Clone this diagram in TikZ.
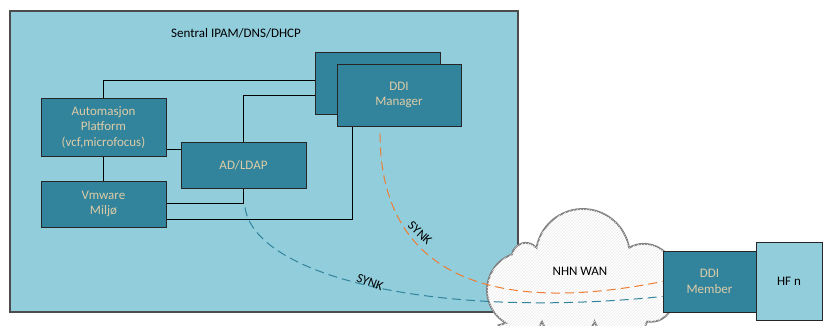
\documentclass[tikz,border=0pt]{standalone}
\usepackage{fontspec}
\setmainfont{Carlito}
\usepackage{tikz}
\usetikzlibrary{patterns}
\definecolor{paleblue}{RGB}{146,205,220}
\definecolor{tealbox}{RGB}{49,132,155}
\definecolor{tantext}{RGB}{222,204,168}
\definecolor{synkorange}{RGB}{237,125,49}

\begin{document}
\begin{tikzpicture}[x=1pt,y=-1pt,
  every node/.style={font=\fontsize{13}{15.5}\selectfont},
  box/.style={draw=black!85,line width=1pt,fill=tealbox,text=tantext,align=center,inner sep=0pt},
  link/.style={line width=0.9pt},
  synk/.style={dash pattern=on 9pt off 5pt,line width=1pt}]
\useasboundingbox (0,0) rectangle (823,325);

% Sentral
\node[draw=black!70,line width=1.5pt,fill=paleblue,minimum width=508pt,minimum height=301pt,inner sep=0pt] (frame) at (263.75,161.5) {};
\node (title) at (236,33) {Sentral IPAM/DNS/DHCP};

% Boxes
\node[box,minimum width=124.5pt,minimum height=62pt] (mgrback) at (377.75,83) {};
\node[box,minimum width=124pt,minimum height=62pt] (mgr) at (399,95) {DDI\\Manager};
\node[box,minimum width=125pt,minimum height=58pt] (auto) at (103.5,127) {Automasjon\\Platform\\(vcf,microfocus)};
\node[box,minimum width=125pt,minimum height=46pt] (vmw) at (103.5,204) {Vmware\\Miljø};
\node[box,minimum width=125pt,minimum height=46pt] (ldap) at (243.5,165) {AD/LDAP};

% Links
\draw[link] (auto.north) |- ([yshift=3pt]mgrback.west);
\draw[link] (ldap.north) |- ([yshift=-12pt]mgrback.west);
\draw[link] ([yshift=-22pt]auto.east) -- ([yshift=16pt]ldap.west);
\draw[link] (auto.south) -- (vmw.north);
\draw[link] ([yshift=1pt]vmw.east) -| (ldap.south);
\draw[link] ([yshift=-15pt]vmw.east) -| ([xshift=-47pt]mgr.south);

% NHN WAN
\draw[draw=black!50,line width=1.8pt,fill=white,postaction={pattern=north east lines,pattern color=black!8}]
  (506,323) arc[start angle=120,end angle=250,radius=38]
  arc[start angle=190,end angle=320,radius=14]
  arc[start angle=190,end angle=350,radius=47]
  arc[start angle=240,end angle=390,radius=30]
  arc[start angle=330,end angle=460,radius=22]
  arc[start angle=20,end angle=160,radius=28]
  arc[start angle=20,end angle=160,radius=28]
  arc[start angle=20,end angle=150,radius=24] -- cycle;
\node (wan) at (580,271) {NHN WAN};

% Member
\node[box,minimum width=93pt,minimum height=61pt] (member) at (709.5,281.5) {DDI\\Member};
\node[box,fill=paleblue,text=black,minimum width=66pt,minimum height=78pt] (hf) at (789,281) {HF n};

% Synk
\draw[synk,synkorange] ([xshift=-19pt,yshift=-7pt]mgr.south) .. controls (380,260) and (470,320) .. (member.west);
\draw[synk,tealbox] ([xshift=1.5pt,yshift=-19pt]ldap.south) .. controls (255,275) and (430,320) .. ([yshift=-15pt]member.west);
\node[rotate=-43] (synka) at (420,233) {SYNK};
\node[rotate=-21] (synkb) at (370,282) {SYNK};
\end{tikzpicture}
\end{document}
